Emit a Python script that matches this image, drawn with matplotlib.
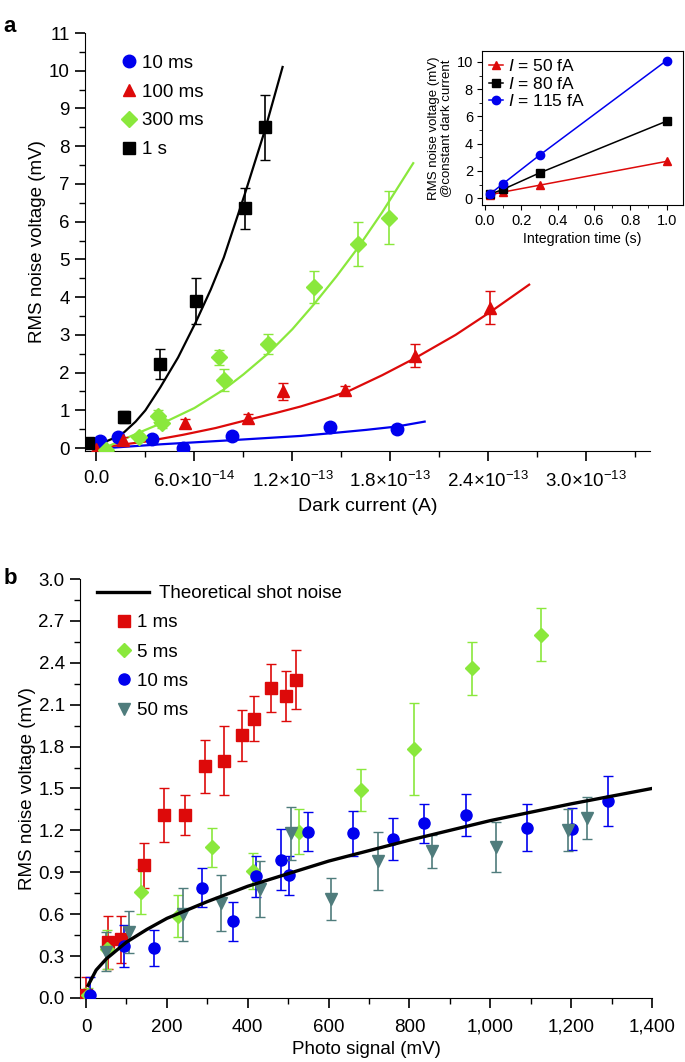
import numpy as np
import matplotlib
matplotlib.use("Agg")
import matplotlib.pyplot as plt
from matplotlib.ticker import MultipleLocator, FixedLocator, FuncFormatter

plt.rcParams['font.family'] = ['Liberation Sans', 'DejaVu Sans']
plt.rcParams['mathtext.fontset'] = 'custom'
plt.rcParams['mathtext.rm'] = 'Liberation Sans'
plt.rcParams['mathtext.it'] = 'Liberation Sans:italic'

# ---------------- panel a data (dark current in A, noise in mV) ----------------
a_10ms_x = [0.2e-14, 1.3e-14, 3.4e-14, 5.3e-14, 8.3e-14, 14.3e-14, 18.4e-14]
a_10ms_y = [0.19, 0.28, 0.24, 0.0, 0.32, 0.56, 0.50]
a_10ms_e = [0.08, 0.08, 0.08, 0.06, 0.1, 0.1, 0.1]

a_100ms_x = [0.0, 1.6e-14, 5.4e-14, 9.3e-14, 11.4e-14, 15.2e-14, 19.5e-14, 24.1e-14]
a_100ms_y = [-0.03, 0.20, 0.66, 0.80, 1.50, 1.54, 2.45, 3.72]
a_100ms_e = [0.05, 0.1, 0.12, 0.1, 0.22, 0.1, 0.3, 0.43]

a_300ms_x = [0.6e-14, 2.6e-14, 3.8e-14, 4.0e-14, 7.5e-14, 7.8e-14, 10.5e-14, 13.3e-14, 16.0e-14, 17.9e-14]
a_300ms_y = [-0.05, 0.28, 0.85, 0.66, 2.40, 1.80, 2.76, 4.27, 5.40, 6.10]
a_300ms_e = [0.05, 0.1, 0.15, 0.12, 0.2, 0.3, 0.27, 0.43, 0.58, 0.7]

a_1s_x = [-0.5e-14, 1.7e-14, 3.9e-14, 6.1e-14, 9.1e-14, 10.3e-14]
a_1s_y = [0.12, 0.82, 2.22, 3.90, 6.35, 8.50]
a_1s_e = [0.1, 0.15, 0.4, 0.6, 0.55, 0.87]

# fitted curves
fit_1s_x = [0.3e-14, 1.0e-14, 1.7e-14, 2.4e-14, 3.0e-14, 3.9e-14, 5.0e-14, 6.1e-14, 7.0e-14, 7.8e-14, 9.1e-14, 10.3e-14, 11.4e-14]
fit_1s_y = [0.12, 0.25, 0.42, 0.7, 1.0, 1.6, 2.4, 3.35, 4.2, 5.05, 6.75, 8.4, 10.1]
fit_300ms_x = [0.5e-14, 1.5e-14, 3.0e-14, 4.5e-14, 6.0e-14, 7.8e-14, 9.0e-14, 10.5e-14, 12.0e-14, 13.3e-14, 14.7e-14, 16.0e-14, 17.5e-14, 19.4e-14]
fit_300ms_y = [0.0, 0.2, 0.48, 0.75, 1.06, 1.55, 1.95, 2.5, 3.15, 3.8, 4.55, 5.3, 6.25, 7.55]
fit_100ms_x = [0.0, 3.0e-14, 5.3e-14, 7.3e-14, 9.2e-14, 11.0e-14, 12.5e-14, 14.0e-14, 15.5e-14, 17.5e-14, 19.5e-14, 22.0e-14, 24.1e-14, 26.5e-14]
fit_100ms_y = [0.0, 0.17, 0.35, 0.53, 0.74, 0.93, 1.1, 1.3, 1.52, 1.93, 2.38, 3.0, 3.6, 4.33]
fit_10ms_x = [0.0, 4.0e-14, 8.0e-14, 12.5e-14, 14.3e-14, 16.5e-14, 18.4e-14, 20.1e-14]
fit_10ms_y = [-0.02, 0.1, 0.2, 0.32, 0.39, 0.48, 0.57, 0.7]

a_xticks = [0.0, 6.0e-14, 1.2e-13, 1.8e-13, 2.4e-13, 3.0e-13]
a_xticklabels = ['0.0', r'$6.0{\times}10^{-14}$', r'$1.2{\times}10^{-13}$',
                 r'$1.8{\times}10^{-13}$', r'$2.4{\times}10^{-13}$', r'$3.0{\times}10^{-13}$']

# inset: noise vs integration time at constant dark current
inset_t = [0.03, 0.1, 0.3, 1.0]
inset_50fA = [0.25, 0.45, 0.95, 2.7]
inset_80fA = [0.3, 0.65, 1.85, 5.65]
inset_115fA = [0.33, 1.07, 3.15, 10.1]

# ---------------- panel b data (photo signal in mV, noise in mV) ----------------
b_1ms_x = [0, 55, 87, 144, 193, 244, 295, 341, 386, 416, 457, 494, 520]
b_1ms_y = [0.02, 0.40, 0.42, 0.95, 1.31, 1.31, 1.66, 1.70, 1.88, 2.00, 2.22, 2.16, 2.28]
b_1ms_e = [0.13, 0.19, 0.17, 0.16, 0.19, 0.14, 0.19, 0.25, 0.18, 0.16, 0.17, 0.18, 0.21]

b_5ms_x = [5, 52, 137, 227, 311, 414, 527, 679, 811, 955, 1125]
b_5ms_y = [0.02, 0.35, 0.76, 0.59, 1.08, 0.91, 1.19, 1.49, 1.78, 2.36, 2.60]
b_5ms_e = [0.05, 0.14, 0.16, 0.15, 0.14, 0.13, 0.16, 0.15, 0.33, 0.19, 0.19]

b_10ms_x = [10, 93, 167, 287, 364, 421, 482, 501, 549, 661, 760, 837, 940, 1090, 1202, 1290]
b_10ms_y = [0.02, 0.37, 0.36, 0.79, 0.55, 0.87, 0.99, 0.88, 1.19, 1.18, 1.14, 1.25, 1.31, 1.22, 1.21, 1.41]
b_10ms_e = [0.13, 0.15, 0.13, 0.14, 0.14, 0.15, 0.22, 0.14, 0.14, 0.16, 0.15, 0.14, 0.15, 0.17, 0.15, 0.18]

b_50ms_x = [49, 107, 240, 333, 431, 507, 607, 722, 857, 1014, 1193, 1240]
b_50ms_y = [0.33, 0.47, 0.60, 0.68, 0.78, 1.18, 0.71, 0.98, 1.05, 1.08, 1.20, 1.29]
b_50ms_e = [0.14, 0.15, 0.19, 0.2, 0.2, 0.19, 0.15, 0.21, 0.12, 0.18, 0.15, 0.15]

shot_x = [5, 25, 50, 100, 150, 200, 300, 400, 500, 600, 800, 1000, 1200, 1400]
shot_y = [0.09, 0.2, 0.28, 0.4, 0.49, 0.57, 0.69, 0.8, 0.89, 0.98, 1.13, 1.27, 1.39, 1.5]

BLUE = '#0000ee'
RED = '#dd0a0a'
GREEN = '#8ae83c'
BLACK = '#000000'
TEAL = '#4f7c7c'

fig = plt.figure(figsize=(6.85, 10.62), dpi=100)

# ======================= panel a =======================
ax = fig.add_axes([0.1241, 0.5753, 0.8248, 0.3936])
series_a = [
    (a_10ms_x, a_10ms_y, a_10ms_e, fit_10ms_x, fit_10ms_y, BLUE, 'o', '10 ms'),
    (a_100ms_x, a_100ms_y, a_100ms_e, fit_100ms_x, fit_100ms_y, RED, '^', '100 ms'),
    (a_300ms_x, a_300ms_y, a_300ms_e, fit_300ms_x, fit_300ms_y, GREEN, 'D', '300 ms'),
    (a_1s_x, a_1s_y, a_1s_e, fit_1s_x, fit_1s_y, BLACK, 's', '1 s'),
]
handles = []
for x, y, e, fx, fy, c, m, lab in series_a:
    ax.plot(fx, fy, color=c, lw=1.6, zorder=2)
    ax.errorbar(x, y, yerr=e, fmt='none', ecolor=c, elinewidth=1.2, capsize=3.5, zorder=3)
    ms = 8 if m == 'D' else 9
    h, = ax.plot(x, y, ls='none', marker=m, ms=ms, color=c, mec=c, label=lab, zorder=4)
    handles.append(h)

ax.set_xlim(-0.7e-14, 3.39e-13)
ax.set_ylim(-0.08, 11)
ax.xaxis.set_major_locator(FixedLocator(a_xticks))
ax.set_xticklabels(a_xticklabels)
ax.xaxis.set_minor_locator(FixedLocator([3e-14 * i for i in range(12)]))
ax.yaxis.set_major_locator(MultipleLocator(1))
ax.yaxis.set_minor_locator(MultipleLocator(0.5))
for s in ['top', 'right']:
    ax.spines[s].set_visible(False)
ax.tick_params(which='major', length=7, width=1.2, labelsize=13.5, pad=7)
ax.tick_params(which='minor', length=4, width=1.0)
ax.tick_params(axis='y', pad=4)
ax.set_xlabel('Dark current (A)', fontsize=14, labelpad=5)
ax.set_ylabel('RMS noise voltage (mV)', fontsize=13.5, labelpad=2)
ax.legend(handles=handles, loc='upper left', bbox_to_anchor=(0.064, 0.948),
          frameon=False, fontsize=13.5, borderpad=0, borderaxespad=0,
          handlelength=0.8, handletextpad=0.3, labelspacing=0.62)
fig.text(0.005, 0.985, 'a', fontsize=16, fontweight='bold', va='top')

# inset
ins = fig.add_axes([0.7036, 0.807, 0.2934, 0.145])
ins.plot(inset_t, inset_50fA, color=RED, marker='^', ms=6, lw=1.1, label='$I$ = 50 fA')
ins.plot(inset_t, inset_80fA, color=BLACK, marker='s', ms=5.5, lw=1.1, label='$I$ = 80 fA')
ins.plot(inset_t, inset_115fA, color=BLUE, marker='o', ms=6, lw=1.1, label='$I$ = 115 fA')
ins.set_xlim(-0.017, 1.09)
ins.set_ylim(-0.5, 10.8)
ins.xaxis.set_major_locator(MultipleLocator(0.2))
ins.xaxis.set_minor_locator(MultipleLocator(0.1))
ins.yaxis.set_major_locator(MultipleLocator(2))
ins.yaxis.set_minor_locator(MultipleLocator(1))
ins.xaxis.set_major_formatter(FuncFormatter(lambda v, p: '%.1f' % v))
ins.tick_params(which='major', length=3.5, width=0.8, labelsize=10.5, pad=3)
ins.tick_params(which='minor', length=2, width=0.6)
for s in ins.spines.values():
    s.set_linewidth(0.8)
ins.set_xlabel('Integration time (s)', fontsize=10.2, labelpad=3)
ins.set_ylabel('RMS noise voltage (mV)\n@constant dark current', fontsize=9.5, labelpad=3,
               linespacing=1.0)
ins.legend(loc='upper left', frameon=False, fontsize=12.5, borderpad=0.1,
           handlelength=0.8, handletextpad=0.3, labelspacing=0.1, borderaxespad=0.3)

# ======================= panel b =======================
bx = fig.add_axes([0.1168, 0.0603, 0.835, 0.3945])
line_h, = bx.plot(shot_x, shot_y, color=BLACK, lw=2.4, zorder=5, label='Theoretical shot noise')
series_b = [
    (b_1ms_x, b_1ms_y, b_1ms_e, RED, 's', '1 ms'),
    (b_5ms_x, b_5ms_y, b_5ms_e, GREEN, 'D', '5 ms'),
    (b_10ms_x, b_10ms_y, b_10ms_e, BLUE, 'o', '10 ms'),
    (b_50ms_x, b_50ms_y, b_50ms_e, TEAL, 'v', '50 ms'),
]
bh = []
for x, y, e, c, m, lab in series_b:
    bx.errorbar(x, y, yerr=e, fmt='none', ecolor=c, elinewidth=1.2, capsize=3.5, zorder=3)
    ms = 7 if m == 'D' else 8
    h, = bx.plot(x, y, ls='none', marker=m, ms=ms, color=c, mec=c, label=lab, zorder=4)
    bh.append(h)

bx.set_xlim(-15, 1400)
bx.set_ylim(0, 3.0)
bx.xaxis.set_major_locator(MultipleLocator(200))
bx.xaxis.set_minor_locator(MultipleLocator(100))
bx.yaxis.set_major_locator(MultipleLocator(0.3))
bx.yaxis.set_minor_locator(MultipleLocator(0.15))
bx.xaxis.set_major_formatter(FuncFormatter(lambda v, p: '{:,.0f}'.format(v)))
bx.yaxis.set_major_formatter(FuncFormatter(lambda v, p: '%.1f' % v))
for s in ['top', 'right']:
    bx.spines[s].set_visible(False)
bx.tick_params(which='major', length=7, width=1.2, labelsize=13.5, pad=8)
bx.tick_params(which='minor', length=4, width=1.0)
bx.tick_params(axis='y', pad=4)
bx.set_xlabel('Photo signal (mV)', fontsize=13.5, labelpad=4)
bx.set_ylabel('RMS noise voltage (mV)', fontsize=13.5, labelpad=2)
leg1 = bx.legend(handles=[line_h], loc='upper left', bbox_to_anchor=(0.0297, 0.985),
                 frameon=False, fontsize=13.5, borderpad=0, borderaxespad=0,
                 handlelength=2.8, handletextpad=0.5)
bx.add_artist(leg1)
bx.legend(handles=bh, loc='upper left', bbox_to_anchor=(0.063, 0.916),
          frameon=False, fontsize=13.5, borderpad=0, borderaxespad=0,
          handlelength=0.8, handletextpad=0.3, labelspacing=0.65)
fig.text(0.005, 0.465, 'b', fontsize=16, fontweight='bold', va='top')

fig.savefig('out.png', dpi=100)
